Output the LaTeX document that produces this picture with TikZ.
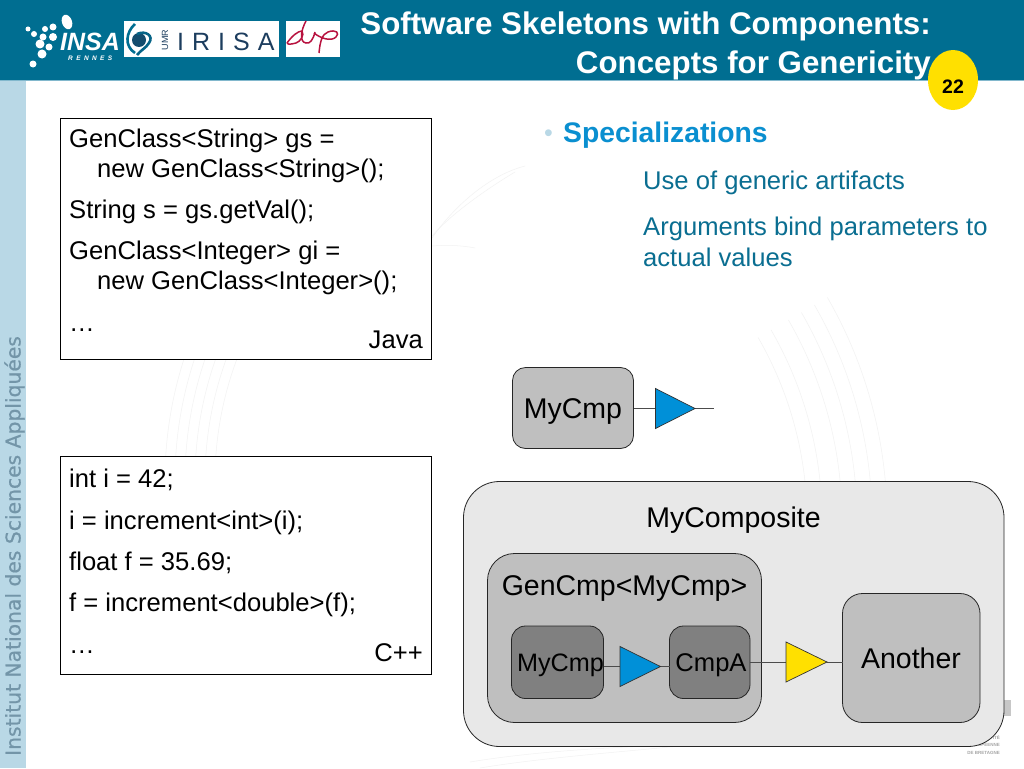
\documentclass[tikz,border=0pt]{standalone}
\usepackage{fontspec}
\usetikzlibrary{shapes.geometric}
\setmainfont{Liberation Sans}
\newfontfamily\sidefont[FakeBold=0.6]{DejaVu Sans}
\definecolor{headbar}{HTML}{006E91}
\definecolor{sidebar}{HTML}{B9D8E6}
\definecolor{sidetext}{HTML}{7395A8}
\definecolor{bodyteal}{HTML}{0A6E91}
\definecolor{headblue}{HTML}{0A8FD0}
\definecolor{portblue}{HTML}{0090D8}
\definecolor{portyellow}{HTML}{FFE000}
\definecolor{irisablue}{HTML}{1C3D5E}
\definecolor{lipred}{HTML}{B8123F}
\tikzset{
 x=1pt,y=-1pt,
 codebox/.style={draw=black,fill=white,line width=0.9pt},
 codetext/.style={anchor=base west,inner sep=0pt,font=\fontsize{25.6}{28}\selectfont},
 bodytext/.style={anchor=base west,inner sep=0pt,text=bodyteal,font=\fontsize{25.6}{28}\selectfont},
 titletext/.style={anchor=base east,inner sep=0pt,text=white,font=\bfseries\fontsize{31.3}{33}\selectfont},
 comp/.style={draw=black!85,line width=0.8pt,rounded corners=#1},
 lbl/.style={anchor=base,inner sep=0pt,font=\fontsize{28.5}{30}\selectfont},
 wire/.style={draw=black!70,line width=0.8pt},
 port/.style={draw=black!80,line width=0.7pt},
 watermark/.style={black!5,line width=0.5pt},
 unitext/.style={anchor=base east,inner sep=0pt,text=black!35,font=\bfseries\fontsize{4.5}{5}\selectfont},
}
\begin{document}
\begin{tikzpicture}
\useasboundingbox (0,0) rectangle (1024,768);
\fill[white] (0,0) rectangle (1024,768);
% faint background arcs
\foreach \r in {345,355,...,395}{
 \draw[watermark] (560,480) ++(180:\r) arc (180:208:\r);
}
\foreach \r in {365,380,400,415,430,445}{
 \draw[watermark] (442,520) ++(-30:\r) arc (-30:-5:\r);
}
\draw[watermark] (432,238) .. controls (455,205) and (490,175) .. (525,166);
\draw[watermark] (432,236) .. controls (450,215) and (485,190) .. (515,172);
\draw[watermark] (432,246) .. controls (445,245) and (460,245) .. (475,248);
\draw[watermark] (480,768) .. controls (540,758) and (620,752) .. (680,746);
\draw[watermark] (470,762) .. controls (530,752) and (600,748) .. (650,746);
% bars
\fill[sidebar] (0,80) rectangle (26,768);
\fill[headbar] (0,0) rectangle (1024,80);
\fill[sidebar!70!headbar] (0,80) rectangle (1024,81);
\node[rotate=90,anchor=base west,inner sep=0pt,text=sidetext,font=\sidefont\fontsize{20.3}{24}\selectfont] (side) at (20.5,756) {Institut National des Sciences Appliquées};
% INSA logo
\foreach \a/\b/\c in {28/29/2.5,34/34/3,45/29/3,53/27/3.5,43/37/3.5,53/37/4,40/44/4.5,49/47/3.5,42/54/4.5,33/64/3.5}{
 \fill[white] (\a,\b) circle (\c);
}
\fill[white,rotate around={20:(67,22)}] (67,22) ellipse (5 and 7.5);
\node[anchor=base west,inner sep=0pt,text=white,font=\bfseries\itshape\fontsize{25}{26}\selectfont] (insa) at (60,50) {INSA};
\node[anchor=base west,inner sep=0pt,text=white,font=\bfseries\itshape\fontsize{6.5}{8}\selectfont] (rennes) at (68,60) {R\hspace{3.4pt}E\hspace{3.4pt}N\hspace{3.4pt}N\hspace{3.4pt}E\hspace{3.4pt}S};
% IRISA logo
\fill[white] (124,21) rectangle (279,57);
\fill[white] (286,21) rectangle (340,57);
\draw[headbar,line width=2.6pt] (135,24) .. controls (126,32) and (124,46) .. (135,53);
\fill[irisablue!70!headbar] (139,40) circle (7);
\draw[headbar!80!irisablue,line width=2.6pt] (137,34) .. controls (146,30) and (154,36) .. (149,43) .. controls (146,48) and (141,50) .. (137,55);
\node[rotate=90,anchor=base,inner sep=0pt,text=irisablue,font=\fontsize{9}{10}\selectfont] (umr) at (168,40) {UMR};
\node[anchor=base west,inner sep=0pt,text=irisablue,font=\fontsize{25}{26}\selectfont] (irisa) at (177,50) {I\hspace{8pt}R\hspace{8pt}I\hspace{8pt}S\hspace{8pt}A};
% Lip logo
\draw[lipred,line width=1.5pt,line join=round] (287,43) .. controls (292,36) and (298,31) .. (302,31) .. controls (305,35) and (300,42) .. (296,43) .. controls (292,44) and (288,45) .. (287,43);
\draw[lipred,line width=1.5pt] (306,21) .. controls (301,30) and (299,42) .. (306,43) .. controls (310,44) and (313,40) .. (315,32);
\draw[lipred,line width=1.5pt] (319,53) .. controls (320,42) and (322,34) .. (328,32) .. controls (336,29) and (340,33) .. (336,37) .. controls (331,42) and (320,38) .. (314,33);
% page number
\node[fill=portyellow,ellipse,minimum width=50pt,minimum height=60pt,inner sep=0pt] (pg) at (953,80) {};
\node[anchor=base,inner sep=0pt,font=\bfseries\fontsize{19.5}{20}\selectfont] (pgn) at (953,93) {22};
% title
\node[titletext] (t1) at (931,35) {Software Skeletons with Components:};
\node[titletext] (t2) at (931,73) {Concepts for Genericity};
% Java box
\path[codebox] (60.5,118.5) rectangle (431.5,359.5);
\node[codetext] (j1) at (69,147) {GenClass<String> gs =};
\node[codetext] (j2) at (97,177) {new GenClass<String>();};
\node[codetext] (j3) at (69,218) {String s = gs.getVal();};
\node[codetext] (j4) at (69,259) {GenClass<Integer> gi =};
\node[codetext] (j5) at (97,289) {new GenClass<Integer>();};
\node[codetext] (j6) at (69,331) {…};
\node[codetext,anchor=base east] (j7) at (423,348) {Java};
% C++ box
\path[codebox] (60.5,456.5) rectangle (431.5,674.5);
\node[codetext] (c1) at (69,487) {int i = 42;};
\node[codetext] (c2) at (69,529) {i = increment<int>(i);};
\node[codetext] (c3) at (69,570) {float f = 35.69;};
\node[codetext] (c4) at (69,611) {f = increment<double>(f);};
\node[codetext] (c5) at (69,653) {…};
\node[codetext,anchor=base east] (c6) at (423,661) {C++};
% bullet
\node[anchor=base west,inner sep=0pt,text=sidebar,font=\fontsize{25}{26}\selectfont] (bul) at (544,141) {•};
\node[anchor=base west,inner sep=0pt,text=headblue,font=\bfseries\fontsize{28.3}{30}\selectfont] (spec) at (563,142) {Specializations};
\node[bodytext] (b1) at (643,189) {Use of generic artifacts};
\node[bodytext] (b2) at (643,235) {Arguments bind parameters to};
\node[bodytext] (b3) at (643,266) {actual values};
% university mark
\fill[black!22] (1004,700) rectangle (1011,716);
\node[unitext] (u1) at (1000,739) {ITÉ};
\node[unitext] (u2) at (1000,746) {OPÉENNE};
\node[unitext] (u3) at (1000,754) {DE BRETAGNE};
% MyCmp top
\path[comp=13pt,fill=black!25] (512.5,367.5) rectangle (633.5,448.5);
\coordinate (topbase) at (633.5,408);
\coordinate (topfree) at (714,408);
\node[lbl] (top) at (573,418) {MyCmp};
\coordinate (tpin) at (655.5,408);
\coordinate (tpout) at (695,408);
\draw[wire] (topbase) -- (tpin);
\draw[wire] (tpout) -- (topfree);
\path[port,fill=portblue] (655.5,388.5) -- (695,408.5) -- (655.5,428.5) -- cycle;
% composite
\path[comp=36pt,fill=black!9] (463.5,481.5) rectangle (1004,746.5);
\node[lbl] (comp) at (733.5,527) {MyComposite};
\path[comp=27pt,fill=black!25] (487.5,553.5) rectangle (761.5,722.5);
\node[lbl] (gen) at (624.5,595) {GenCmp<MyCmp>};
\path[comp=14pt,fill=black!50] (511.5,626) rectangle (603.5,698.5);
\node[lbl,font=\fontsize{25.2}{27}\selectfont] (mc) at (560.5,671) {MyCmp};
\path[comp=14pt,fill=black!50] (669.5,626) rectangle (750,698.5);
\node[lbl,font=\fontsize{25.6}{27}\selectfont] (ca) at (711,671) {CmpA};
\path[comp=20pt,fill=black!25] (842.5,593.5) rectangle (980,722.5);
\node[lbl] (an) at (911,668) {Another};
\draw[wire] (603.5,666.5) -- (620,666.5);
\draw[wire] (660,666.5) -- (669.5,666.5);
\path[port,fill=portblue] (620,646.5) -- (660.5,666.5) -- (620,686.5) -- cycle;
\draw[wire] (750,662) -- (786,662);
\draw[wire] (827,662) -- (842.5,662);
\path[port,fill=portyellow] (786,642) -- (827,662) -- (786,682) -- cycle;
\end{tikzpicture}
\end{document}
